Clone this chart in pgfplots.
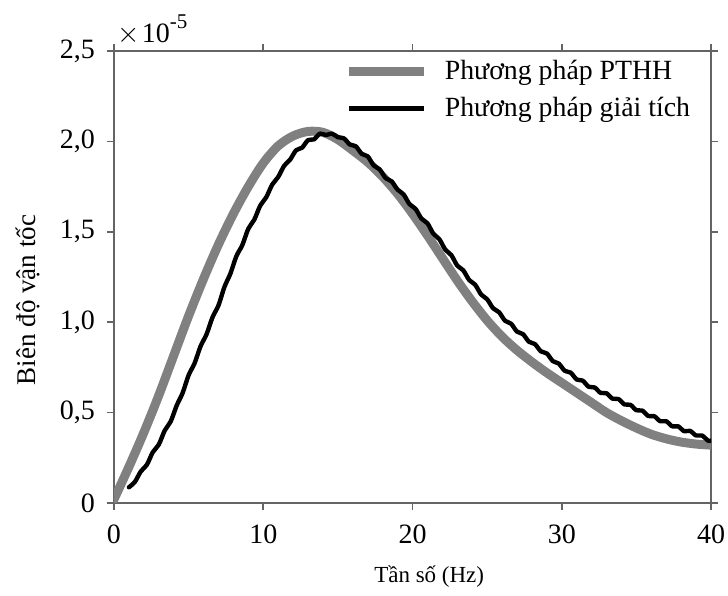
\documentclass[border=0pt]{standalone}
\usepackage{fontspec}
\setmainfont{Liberation Serif}
\usepackage{pgfplots}
\pgfplotsset{compat=1.18}
\definecolor{axgray}{RGB}{100,100,100}
\definecolor{femgray}{RGB}{128,128,128}
\begin{document}
\begin{tikzpicture}
\begin{axis}[
  name=ax,
  scale only axis,
  width=298.5pt, height=226pt,
  xmin=0, xmax=40, ymin=0, ymax=2.5,
  xtick={0,10,20,30,40},
  xticklabels={0,10,20,30,40},
  ytick={0,0.5,1,1.5,2,2.5},
  yticklabels={0,{0,5},{1,0},{1,5},{2,0},{2,5}},
  tick align=outside,
  major tick length=3.5pt,
  axis line style={axgray, line width=0.8pt},
  every tick/.style={axgray, line width=0.8pt},
  tick label style={font=\fontsize{14}{16}\selectfont},
  xticklabel style={yshift=-4pt},
  yticklabel style={xshift=-2.5pt},
  /pgf/number format/assume math mode=true,
  xlabel={Tần số (Hz)},
  ylabel={Biên độ vận tốc},
  xlabel style={font=\fontsize{11.5}{13}\selectfont, at={(axis description cs:0.528,0)}, anchor=base, yshift=-40pt},
  ylabel style={font=\fontsize{13.5}{15}\selectfont, at={(axis description cs:-0.144,0.449)}, anchor=center},
  legend image code/.code={\draw[#1, line cap=butt] (0pt,0pt) -- (37.5pt,0pt);},
  legend style={draw=none, fill=none, at={(rel axis cs:0.386,0.99)}, anchor=north west,
    inner sep=0pt, font=\fontsize{13.9}{16}\selectfont, row sep=3.5pt,
    /tikz/every odd column/.append style={column sep=6pt}},
  legend cell align=left,
]
\addplot[femgray, line width=4.5pt, smooth, line cap=round] coordinates {
(0,0.02) (1,0.20) (2,0.39) (3,0.595) (4,0.815) (5,1.035) (6,1.24) (7,1.43) (8,1.60) (9,1.75)
(10,1.88) (11,1.975) (12,2.03) (13,2.055) (14,2.05) (15,2.01) (16,1.95) (17,1.885) (18,1.805) (19,1.71)
(20,1.60) (21,1.48) (22,1.355) (23,1.23) (24,1.115) (25,1.01) (26,0.92) (27,0.845) (28,0.78) (29,0.72)
(30,0.665) (31,0.61) (32,0.555) (33,0.50) (34,0.455) (35,0.415) (36,0.38) (37,0.355) (38,0.337) (39,0.326) (40,0.32)
};
\addlegendentry{Phương pháp PTHH}
\addplot[black, line width=2.2pt, smooth, tension=0.5, line join=round, line cap=round] coordinates {
(1.0,0.087) (1.4,0.117) (1.8,0.175) (2.2,0.211) (2.6,0.281) (3.0,0.323) (3.4,0.401) (3.8,0.451)
(4.2,0.539) (4.6,0.609) (5.0,0.707) (5.4,0.773) (5.8,0.867) (6.2,0.933) (6.6,1.027) (7.0,1.093)
(7.4,1.195) (7.8,1.269) (8.2,1.365) (8.6,1.427) (9.0,1.517) (9.4,1.567) (9.8,1.645) (10.2,1.691)
(10.6,1.761) (11.0,1.803) (11.4,1.865) (11.8,1.899) (12.2,1.951) (12.6,1.965) (13.0,2.007) (13.4,2.011)
(13.8,2.043) (14.2,2.035) (14.6,2.043) (15.0,2.023) (15.4,2.017) (15.8,1.983) (16.2,1.973) (16.6,1.931)
(17.0,1.917) (17.4,1.867) (17.8,1.845) (18.2,1.797) (18.6,1.779) (19.0,1.733) (19.4,1.707) (19.8,1.653)
(20.2,1.627) (20.6,1.573) (21.0,1.547) (21.4,1.489) (21.8,1.459) (22.2,1.401) (22.6,1.371) (23.0,1.313)
(23.4,1.287) (23.8,1.233) (24.2,1.207) (24.6,1.153) (25.0,1.127) (25.4,1.077) (25.8,1.055) (26.2,1.008)
(26.6,0.992) (27.0,0.948) (27.4,0.934) (27.8,0.892) (28.2,0.879) (28.6,0.839) (29.0,0.827) (29.4,0.785)
(29.8,0.771) (30.2,0.731) (30.6,0.721) (31.0,0.683) (31.4,0.677) (31.8,0.643) (32.2,0.639) (32.6,0.609)
(33.0,0.607) (33.4,0.577) (33.8,0.575) (34.2,0.545) (34.6,0.543) (35.0,0.513) (35.4,0.511) (35.8,0.481)
(36.2,0.480) (36.6,0.452) (37.0,0.452) (37.4,0.424) (37.8,0.424) (38.2,0.397) (38.6,0.399) (39.0,0.373)
(39.4,0.373) (39.8,0.345) (40.0,0.345)
};
\addlegendentry{Phương pháp giải tích}
\end{axis}
\node[anchor=base west, inner sep=0pt, font=\fontsize{14}{16}\selectfont] at ([xshift=1.5pt,yshift=4pt]ax.north west) {$\times$\kern1pt 10\raisebox{7pt}{\fontsize{10.5}{12}\selectfont -5}};
\pgfresetboundingbox
\path ([xshift=-57pt,yshift=-46.5pt]ax.south west) rectangle ([xshift=8.5pt,yshift=25.5pt]ax.north east);
\end{tikzpicture}
\end{document}
